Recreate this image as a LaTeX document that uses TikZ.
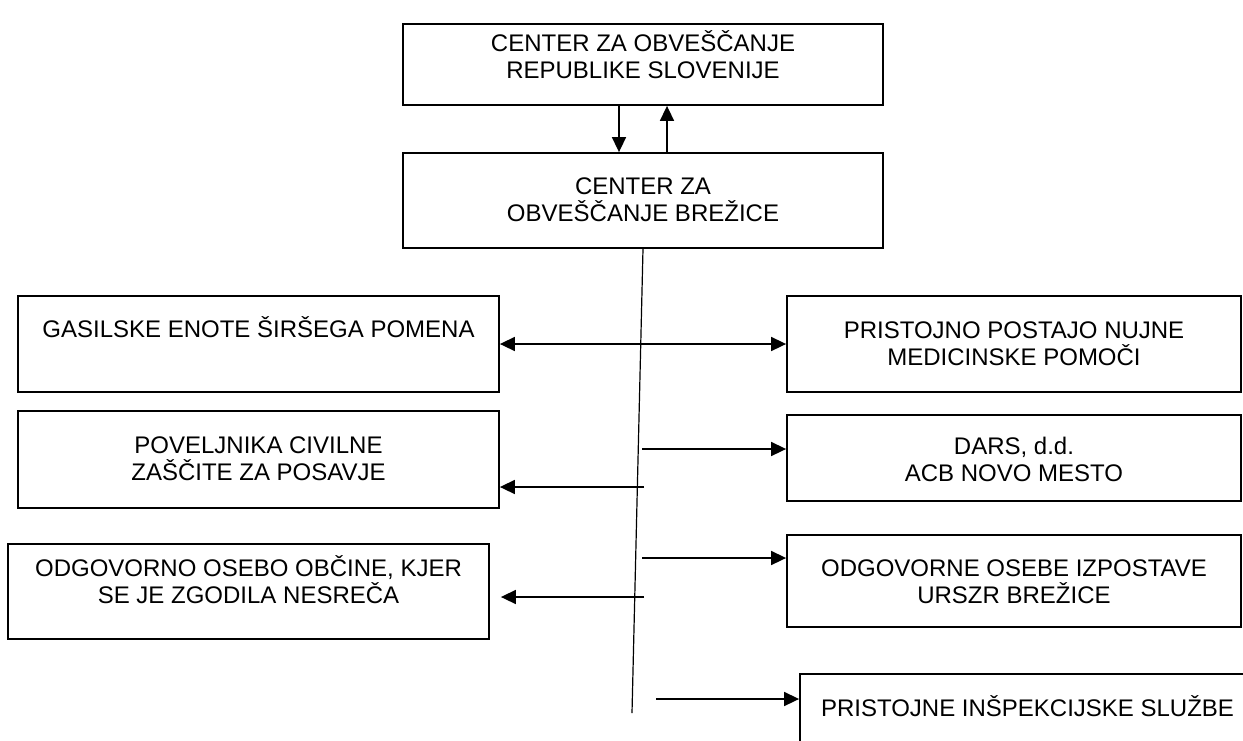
\documentclass[tikz,border=0pt]{standalone}
\usepackage{fontspec}
\setmainfont{Liberation Sans}
\usetikzlibrary{arrows.meta}

\begin{document}
\begin{tikzpicture}[x=1pt, y=-1pt,
    >={Triangle[length=15pt,width=14pt]},
    box/.style={draw=black, line width=1.8pt, rectangle, inner sep=0pt},
    boxtext/.style={align=center, anchor=base, inner sep=0pt,
      font=\fontsize{24}{27}\selectfont},
    link/.style={line width=1.6pt, ->}]
      \useasboundingbox (0,0) rectangle (1243,740);
      \clip (0,0) rectangle (1243,740);

      % centre
      \node [box, minimum width=480pt, minimum height=81pt] (crs) at (643,64.5) {};
      \node [box, minimum width=480pt, minimum height=95pt] (brez) at (643,200.5) {};
      \node [boxtext] at ([yshift=-55pt]crs.north) {CENTER ZA OBVEŠČANJE\\REPUBLIKE SLOVENIJE};
      \node [boxtext] at ([yshift=-69pt]brez.north) {CENTER ZA\\OBVEŠČANJE BREŽICE};

      % left
      \node [box, minimum width=481pt, minimum height=96pt] (gas) at (258.5,344) {};
      \node [box, minimum width=481pt, minimum height=97pt] (pov) at (258.5,459.5) {};
      \node [box, minimum width=481pt, minimum height=95pt] (obc) at (248.5,591.5) {};
      \node [boxtext] at ([yshift=-42pt]gas.north) {GASILSKE ENOTE ŠIRŠEGA POMENA};
      \node [boxtext] at ([yshift=-70pt]pov.north) {POVELJNIKA CIVILNE\\ZAŠČITE ZA POSAVJE};
      \node [boxtext] at ([yshift=-60pt]obc.north) {ODGOVORNO OSEBO OBČINE, KJER\\SE JE ZGODILA NESREČA};

      % right
      \node [box, minimum width=454pt, minimum height=96pt] (nmp) at (1014,344) {};
      \node [box, minimum width=454pt, minimum height=86pt] (dars) at (1014,458) {};
      \node [box, minimum width=454pt, minimum height=92pt] (urszr) at (1014,581) {};
      \node [box, minimum width=455pt, minimum height=96pt] (insp) at (1027.5,722) {};
      \node [boxtext] at ([yshift=-70pt]nmp.north) {PRISTOJNO POSTAJO NUJNE\\MEDICINSKE POMOČI};
      \node [boxtext] at ([yshift=-67pt]dars.north) {DARS, d.d.\\ACB NOVO MESTO};
      \node [boxtext] at ([yshift=-69pt]urszr.north) {ODGOVORNE OSEBE IZPOSTAVE\\URSZR BREŽICE};
      \node [boxtext] at ([yshift=-43pt]insp.north) {PRISTOJNE INŠPEKCIJSKE SLUŽBE};

      \draw [link] ([xshift=-24pt]crs.south) -- ([xshift=-24pt]brez.north);
      \draw [link] ([xshift=24pt]brez.north) -- ([xshift=24pt]crs.south);

      \coordinate (trunk) at (632,713);
      \draw [line width=1.2pt] (brez.south) -- (trunk);

      \coordinate (t1) at (642,449);
      \coordinate (t2) at (644,487);
      \coordinate (t3) at (642,558);
      \coordinate (t4) at (644,597);
      \coordinate (t5) at (656,699);

      \draw [link, <->] (gas.east) -- (nmp.west);
      \draw [link] (t1) -- (t1 -| dars.west);
      \draw [link] (t2) -- (t2 -| pov.east);
      \draw [link] (t3) -- (t3 -| urszr.west);
      \draw [link] (t4) -- ([xshift=11pt]t4 -| obc.east);
      \draw [link] (t5) -- (t5 -| insp.west);
    \end{tikzpicture}
\end{document}
